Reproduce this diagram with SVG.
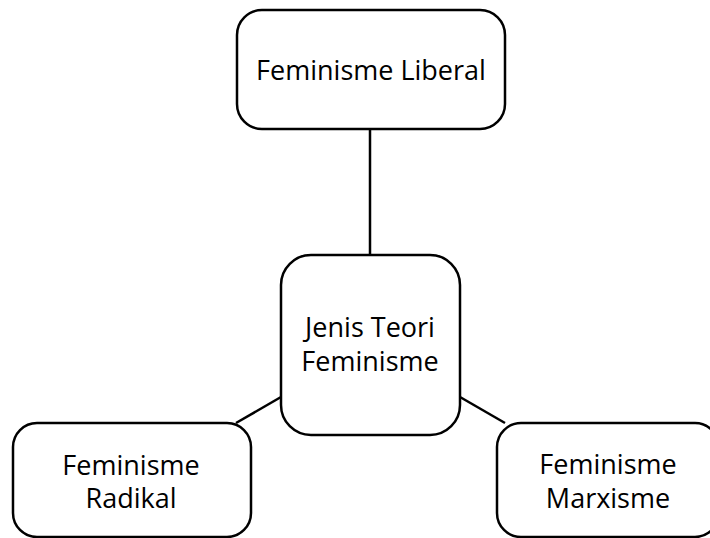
<svg xmlns="http://www.w3.org/2000/svg" width="710" height="538" viewBox="0 0 710 538">
<style>
.box{fill:#fff;stroke:#000;stroke-width:2.5}
.lbl{font-family:"Open Sans","Noto Sans",sans-serif;font-size:27px;fill:#000;text-anchor:middle}
.conn line{stroke:#000;stroke-width:2.5}
</style>
<rect width="710" height="538" fill="#fff"/>
<g class="conn" id="connectors">
<line x1="370" y1="129" x2="370" y2="255"/>
<line x1="281" y1="397" x2="236" y2="423"/>
<line x1="460" y1="397" x2="505" y2="423"/>
</g>
<g id="node-liberal">
<rect class="box" x="237" y="10" width="268" height="119" rx="25"/>
<text class="lbl" x="371" y="80">Feminisme Liberal</text>
</g>
<g id="node-center">
<rect class="box" x="281" y="255" width="179" height="180" rx="30"/>
<text class="lbl" x="370" y="337">Jenis Teori</text>
<text class="lbl" x="370" y="371">Feminisme</text>
</g>
<g id="node-radikal">
<rect class="box" x="13" y="423" width="238" height="114" rx="24"/>
<text class="lbl" x="131" y="475">Feminisme</text>
<text class="lbl" x="131" y="508">Radikal</text>
</g>
<g id="node-marxisme">
<rect class="box" x="497" y="423" width="222" height="114" rx="24"/>
<text class="lbl" x="608" y="474">Feminisme</text>
<text class="lbl" x="608" y="508">Marxisme</text>
</g>
</svg>
